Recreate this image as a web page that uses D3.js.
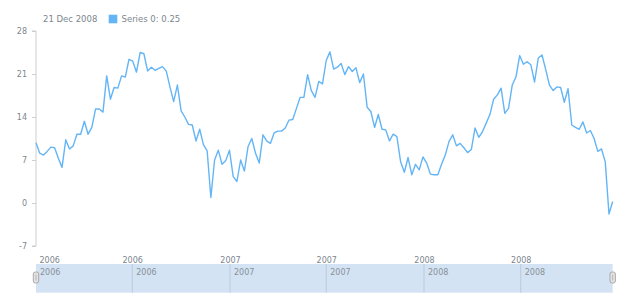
<!DOCTYPE html>
<html><head><meta charset="utf-8">
<script src="https://cdn.jsdelivr.net/npm/d3@7/dist/d3.min.js"></script>
<style>html,body{margin:0;padding:0;background:#fff}svg{display:block}text{font-family:"DejaVu Sans",Verdana,sans-serif}</style>
</head><body><svg id="c" width="620" height="300"></svg>
<script>
// weekly series, Sundays from 1 Jan 2006 to 21 Dec 2008
const startDate = "2006-01-01";
const values = [
 9.8,8.1,7.8,8.4,9.1,9.0,7.3,5.8,10.3,8.8,
 9.3,11.2,11.2,13.3,11.2,12.3,15.3,15.3,14.8,20.7,
 16.9,18.8,18.7,20.7,20.5,23.4,23.1,21.3,24.5,24.3,
 21.5,22.1,21.6,21.9,22.2,21.5,18.9,16.5,19.2,15.0,
 14.0,12.8,12.7,10.1,12.0,9.5,8.5,0.9,7.0,8.6,
 6.3,6.9,8.6,4.3,3.5,7.0,5.2,9.2,10.5,8.1,
 6.5,11.1,10.1,9.7,11.4,11.7,11.7,12.2,13.5,13.6,
 15.4,17.2,17.2,20.9,18.3,17.2,19.8,19.4,23.2,24.6,
 21.8,22.1,22.7,20.9,22.2,21.4,22.0,19.6,21.0,15.6,
 14.9,12.3,14.4,12.0,11.9,10.1,11.2,10.8,6.7,5.0,
 7.4,4.6,6.3,5.4,7.5,6.5,4.7,4.6,4.6,6.3,
 7.8,10.0,11.1,9.3,9.7,9.0,8.2,8.7,12.2,10.7,
 11.6,13.0,14.4,16.9,17.6,18.7,14.6,15.4,19.2,20.5,
 24.0,22.6,23.0,22.5,19.7,23.6,24.1,21.7,19.2,18.3,
 18.9,18.8,16.4,18.6,12.7,12.3,12.0,13.2,11.4,11.8,
 10.5,8.4,8.8,6.7,-1.8,0.25
];
const yTicks = [-7,0,7,14,21,28];
const xTickDates = ["2006-01-01","2006-07-01","2007-01-01","2007-07-01","2008-01-01","2008-07-01"];
const xTickLabels = ["2006","2006","2007","2007","2008","2008"];
const legendDate = "21 Dec 2008";
const seriesName = "Series 0";

const parse = d3.utcParse("%Y-%m-%d");
const t0 = parse(startDate);
const data = values.map((v,i)=>({date:d3.utcDay.offset(t0,7*i), value:v}));
const ticks = xTickDates.map(parse);

const svg = d3.select("#c");
const L=36, R=612.7, T=31, B=246;
const x = d3.scaleUtc().domain([data[0].date, data[data.length-1].date]).range([L,R]);
const y = d3.scaleLinear().domain([-7,28]).range([B,T]);
const grey = "#7c868e";

// legend
svg.append("text").attr("x",43).attr("y",22).attr("font-size",8.5).attr("fill",grey).text(legendDate);
svg.append("rect").attr("x",108.7).attr("y",14.7).attr("width",8.6).attr("height",8.6).attr("fill","#64b5f6");
svg.append("text").attr("x",121.5).attr("y",22).attr("font-size",8.5).attr("fill",grey)
  .text(seriesName+": "+values[values.length-1]);

// y axis
const ya = svg.append("g").attr("transform",`translate(${L},0)`)
  .call(d3.axisLeft(y).tickValues(yTicks).tickSize(4).tickPadding(5).tickFormat(d=>String(d)));
ya.select(".domain").attr("stroke","#cecece").attr("d",`M-4,${T}H0V${B}H-4`);
ya.selectAll(".tick line").attr("stroke","#cecece");
ya.selectAll(".tick text").attr("fill",grey).attr("font-size",8).attr("font-family","DejaVu Sans");

// x axis labels
const xa = svg.append("g").attr("transform",`translate(0,${B})`)
  .call(d3.axisBottom(x).tickValues(ticks).tickSize(0).tickPadding(11).tickFormat((d,i)=>xTickLabels[i]));
xa.select(".domain").remove();
xa.selectAll(".tick text").attr("fill",grey).attr("font-size",8).attr("font-family","DejaVu Sans")
  .attr("text-anchor",(d,i)=>i===0?"start":"middle").attr("dx",(d,i)=>i===0?3:0);

// line
svg.append("path").datum(data).attr("fill","none").attr("stroke","#64b5f6").attr("stroke-width",1.4)
  .attr("stroke-linejoin","round")
  .attr("d",d3.line().x(d=>x(d.date)).y(d=>y(d.value)));

// scroller
const sT=264, sB=292.7;
svg.append("rect").attr("x",L).attr("y",sT).attr("width",R-L).attr("height",sB-sT).attr("fill","#d3e3f4");
const sg = svg.append("g");
sg.selectAll("line").data(ticks.slice(1)).join("line")
  .attr("x1",d=>x(d)).attr("x2",d=>x(d)).attr("y1",sT).attr("y2",sB).attr("stroke","#bccadb").attr("stroke-width",1);
sg.selectAll("text").data(ticks).join("text")
  .attr("x",d=>x(d)+4).attr("y",sT+11).attr("font-size",8).attr("fill","#8a9096").text((d,i)=>xTickLabels[i]);
[L,R].forEach(hx=>{
  svg.append("rect").attr("x",hx-2.7).attr("y",272).attr("width",5.4).attr("height",11).attr("rx",2).attr("ry",2)
    .attr("fill","#e4e4e4").attr("stroke","#999").attr("stroke-width",0.8);
  svg.append("line").attr("x1",hx).attr("x2",hx).attr("y1",274.5).attr("y2",280.5).attr("stroke","#aaa").attr("stroke-width",0.8);
});
</script></body></html>
